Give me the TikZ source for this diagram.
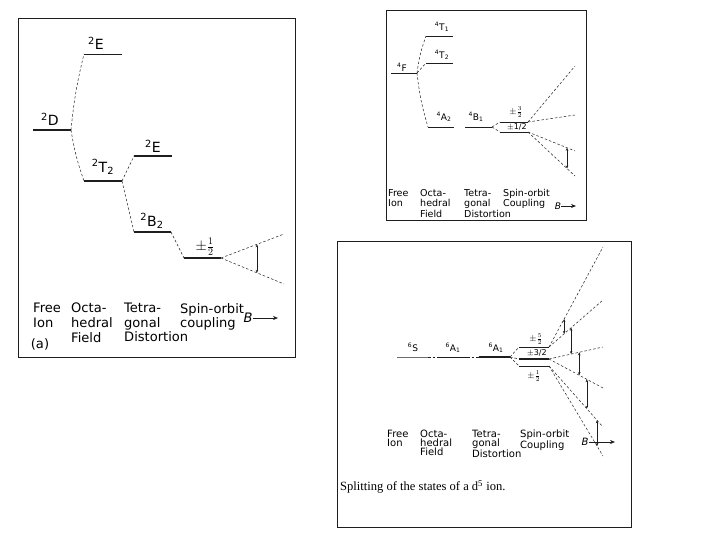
\documentclass[tikz,border=0pt]{standalone}
\usepackage{fontspec}
\setmainfont{DejaVu Sans}
\newfontfamily\capfont{Liberation Serif}
\usetikzlibrary{arrows.meta}
\definecolor{inkgray}{HTML}{1E1E1E}
\definecolor{fadegray}{HTML}{6E6E6E}
\newcommand{\tsym}[3]{\textsuperscript{#1}#2\textsubscript{#3}}

\begin{document}
\begin{tikzpicture}[x=0.035cm, y=-0.035cm,
  frame/.style={draw=inkgray, line width=0.8pt},
  level/.style={draw=inkgray, line width=1.5pt},
  thinlevel/.style={draw=inkgray, line width=0.8pt},
  conn/.style={draw=inkgray, dash pattern=on 2.5pt off 2pt, line width=0.5pt},
  trans/.style={{Stealth[length=3pt,width=2.5pt]}-{Stealth[length=3pt,width=2.5pt]}, draw=inkgray, line width=0.6pt},
  axisarrow/.style={-{Stealth[length=5pt,width=4pt]}, draw=inkgray, line width=0.7pt},
  biglab/.style={font=\fontsize{14}{15}\selectfont, inner sep=0pt},
  smalllab/.style={font=\fontsize{9}{10}\selectfont, inner sep=0pt},
  bigaxis/.style={font=\fontsize{13}{14.5}\selectfont, align=left, anchor=north west, inner sep=0pt},
  midaxis/.style={font=\fontsize{9.5}{10.5}\selectfont, align=left, anchor=north west, inner sep=0pt},
  lowaxis/.style={font=\fontsize{10}{9}\selectfont, align=left, anchor=north west, inner sep=0pt}
]
\useasboundingbox (0,0) rectangle (720,540);

\draw[frame] (18,18) rectangle (295,357);
\coordinate (dL) at (33,130);   \coordinate (dR) at (71,130);
\coordinate (eL) at (84,54);    \coordinate (eR) at (122,54);
\coordinate (tL) at (84,181);   \coordinate (tR) at (122,181);
\coordinate (ekL) at (134,156); \coordinate (ekR) at (172,156);
\coordinate (bL) at (134,232);  \coordinate (bR) at (171,232);
\coordinate (sL) at (184,258);  \coordinate (sR) at (221,258);
\coordinate (sU) at (284,234);  \coordinate (sD) at (284,284);
\draw[level] (dL) -- (dR);
\draw[thinlevel] (eL) -- (eR);
\draw[level] (tL) -- (tR);
\draw[level] (ekL) -- (ekR);
\draw[level] (bL) -- (bR);
\draw[level] (sL) -- (sR);
\draw[conn] (dR) to[bend left=4] (eL);
\draw[conn] (dR) to[bend right=5] (tL);
\draw[conn] (tR) -- (ekL);
\draw[conn] (tR) -- (bL);
\draw[conn] (bR) -- (sL);
\draw[conn] (sR) -- coordinate[pos=.57] (sa) (sU);
\draw[conn] (sR) -- coordinate[pos=.57] (sb) (sD);
\draw[trans] (sa) -- (sb);
\node[biglab] (dlab) at (50,119) {\textsuperscript{2}D};
\node[biglab] (elab) at (96,43) {\textsuperscript{2}E};
\node[biglab] (tlab) at (103,167) {\tsym{2}{T}{2}};
\node[biglab] (eklab) at (153,146) {\textsuperscript{2}E};
\node[biglab] (blab) at (152,221) {\tsym{2}{B}{2}};
\node[biglab] (slab) at (205,247) {$\pm\frac{1}{2}$};
\node[bigaxis] (freea) at (33,303) {Free\\Ion};
\node[bigaxis] (octa) at (71,303) {Octa-\\hedral\\Field};
\node[bigaxis] (tetra) at (124,303) {Tetra-\\gonal\\Distortion};
\node[bigaxis] (spina) at (180,303) {Spin-orbit\\coupling};
\node[biglab, font=\fontsize{13}{14}\selectfont\itshape] (fielda) at (248,318) {B};
\coordinate (fieldaend) at (278,318);
\draw[axisarrow] (fielda) -- (fieldaend);
\node[biglab, font=\fontsize{13}{14}\selectfont] (parta) at (40,344) {(a)};

\draw[frame] (386,10) rectangle (586,220);
\coordinate (fL) at (391,73);   \coordinate (fR) at (417,73);
\coordinate (taL) at (426,36);  \coordinate (taR) at (453,36);
\coordinate (tbL) at (426,63);  \coordinate (tbR) at (453,63);
\coordinate (aL) at (428,127);  \coordinate (aR) at (454,127);
\coordinate (qL) at (465,127);  \coordinate (qR) at (492,127);
\coordinate (uL) at (500,122);  \coordinate (uR) at (528,122);
\coordinate (lL) at (500,132);  \coordinate (lR) at (528,132);
\coordinate (u1) at (575,66);   \coordinate (u2) at (575,115);
\coordinate (l1) at (575,151);  \coordinate (l2) at (575,176);
\draw[thinlevel] (fL) -- (fR);
\draw[thinlevel] (taL) -- (taR);
\draw[thinlevel] (tbL) -- (tbR);
\draw[thinlevel] (aL) -- (aR);
\draw[thinlevel] (qL) -- (qR);
\draw[thinlevel] (uL) -- (uR);
\draw[thinlevel] (lL) -- (lR);
\draw[conn] (fR) to[bend left=6] (taL);
\draw[conn] (fR) -- (tbL);
\draw[conn] (fR) to[bend right=5] (aL);
\draw[conn] (qR) -- (uL);
\draw[conn] (qR) -- (lL);
\draw[conn] (uR) -- (u1);
\draw[conn] (uR) -- (u2);
\draw[conn] (lR) -- coordinate[pos=.83] (la) (l1);
\draw[conn] (lR) -- coordinate[pos=.83] (lb) (l2);
\draw[trans] (la) -- (lb);
\node[smalllab] (flab) at (402,67) {\textsuperscript{4}F};
\node[smalllab] (talab) at (442,27) {\tsym{4}{T}{1}};
\node[smalllab] (tblab) at (442,55) {\tsym{4}{T}{2}};
\node[smalllab] (alab) at (444,117) {\tsym{4}{A}{2}};
\node[smalllab] (qlab) at (476,117) {\tsym{4}{B}{1}};
\node[smalllab] (ulab) at (516,112) {$\pm\frac{3}{2}$};
\node[smalllab, font=\fontsize{8}{9}\selectfont] (llab) at (517,127) {$\pm$1/2};
\node[midaxis] (freeb) at (388,189) {Free\\Ion};
\node[midaxis] (octb) at (420,189) {Octa-\\hedral\\Field};
\node[midaxis] (tetb) at (464,189) {Tetra-\\gonal\\Distortion};
\node[midaxis] (spinb) at (503,189) {Spin-orbit\\Coupling};
\node[smalllab, font=\fontsize{9}{10}\selectfont\itshape] (fieldb) at (558,206) {B};
\coordinate (fieldbend) at (576,206);
\draw[axisarrow] (fieldb) -- (fieldbend);

\draw[frame] (337,241) rectangle (631,527);
\coordinate (xsL) at (397,357);  \coordinate (xsR) at (428,357);
\coordinate (xoL) at (438,357);  \coordinate (xoR) at (467,357);
\coordinate (xtL) at (479,357);  \coordinate (xtR) at (510,357);
\coordinate (m5L) at (519,347);  \coordinate (m5R) at (549,347);
\coordinate (m3L) at (519,359);  \coordinate (m3R) at (549,359);
\coordinate (m1L) at (519,366);  \coordinate (m1R) at (549,366);
\coordinate (ka) at (603,247);   \coordinate (kb) at (603,300);
\coordinate (kc) at (603,347);   \coordinate (kd) at (603,388);
\coordinate (ke) at (603,427);   \coordinate (kf) at (603,456);
\draw[thinlevel, draw=fadegray] (xsL) -- (xsR);
\draw[thinlevel] (xoL) -- (xoR);
\draw[level] (xtL) -- (xtR);
\draw[conn] (xsR) -- (xoL);
\draw[conn] (xoR) -- (xtL);
\draw[conn] (xtR) -- (m5L);
\draw[conn] (xtR) -- (m3L);
\draw[conn] (xtR) -- (m1L);
\draw[thinlevel] (m5L) -- (m5R);
\draw[level] (m3L) -- (m3R);
\draw[thinlevel] (m1L) -- (m1R);
\draw[conn] (m5R) -- coordinate[pos=.28] (ka1) (ka);
\draw[conn] (m5R) -- coordinate[pos=.28] (kb1) coordinate[pos=.41] (kb2) (kb);
\draw[conn] (m3R) -- coordinate[pos=.41] (kc2) coordinate[pos=.56] (kc3) (kc);
\draw[conn] (m3R) -- coordinate[pos=.56] (kd3) coordinate[pos=.70] (kd4) (kd);
\draw[conn] (m1R) -- coordinate[pos=.70] (ke4) coordinate[pos=.89] (ke5) (ke);
\draw[conn] (m1R) -- coordinate[pos=.89] (kf5) (kf);
\draw[trans] (ka1) -- (kb1);
\draw[trans] (kb2) -- (kc2);
\draw[trans] (kc3) -- (kd3);
\draw[trans] (kd4) -- (ke4);
\draw[trans] (ke5) -- (kf5);
\node[smalllab] (xslab) at (413,347) {\textsuperscript{6}S};
\node[smalllab] (xolab) at (453,348) {\tsym{6}{A}{1}};
\node[smalllab] (xtlab) at (496,348) {\tsym{6}{A}{1}};
\node[smalllab] (m5lab) at (536,339) {$\pm\frac{5}{2}$};
\node[smalllab, font=\fontsize{8}{9}\selectfont] (m3lab) at (537,353) {$\pm$3/2};
\node[smalllab] (m1lab) at (534,376) {$\pm\frac{1}{2}$};
\node[lowaxis] (freec) at (387,430) {Free\\Ion};
\node[lowaxis] (octc) at (420,430) {Octa-\\hedral\\Field};
\node[lowaxis] (tetc) at (472,430) {Tetra-\\gonal\\Distortion};
\node[lowaxis] (spinc) at (520,430) {Spin-orbit\\Coupling};
\node[smalllab, font=\fontsize{10}{10}\selectfont\itshape] (fieldc) at (585,442) {B};
\coordinate (fieldcend) at (615,442);
\draw[axisarrow] (fieldc) -- (fieldcend);
\node[anchor=west, inner sep=0pt, font=\capfont\fontsize{12.5}{13}\selectfont] (caption) at (340,487) {Splitting of the states of a d\textsuperscript{5} ion.};
\end{tikzpicture}
\end{document}
